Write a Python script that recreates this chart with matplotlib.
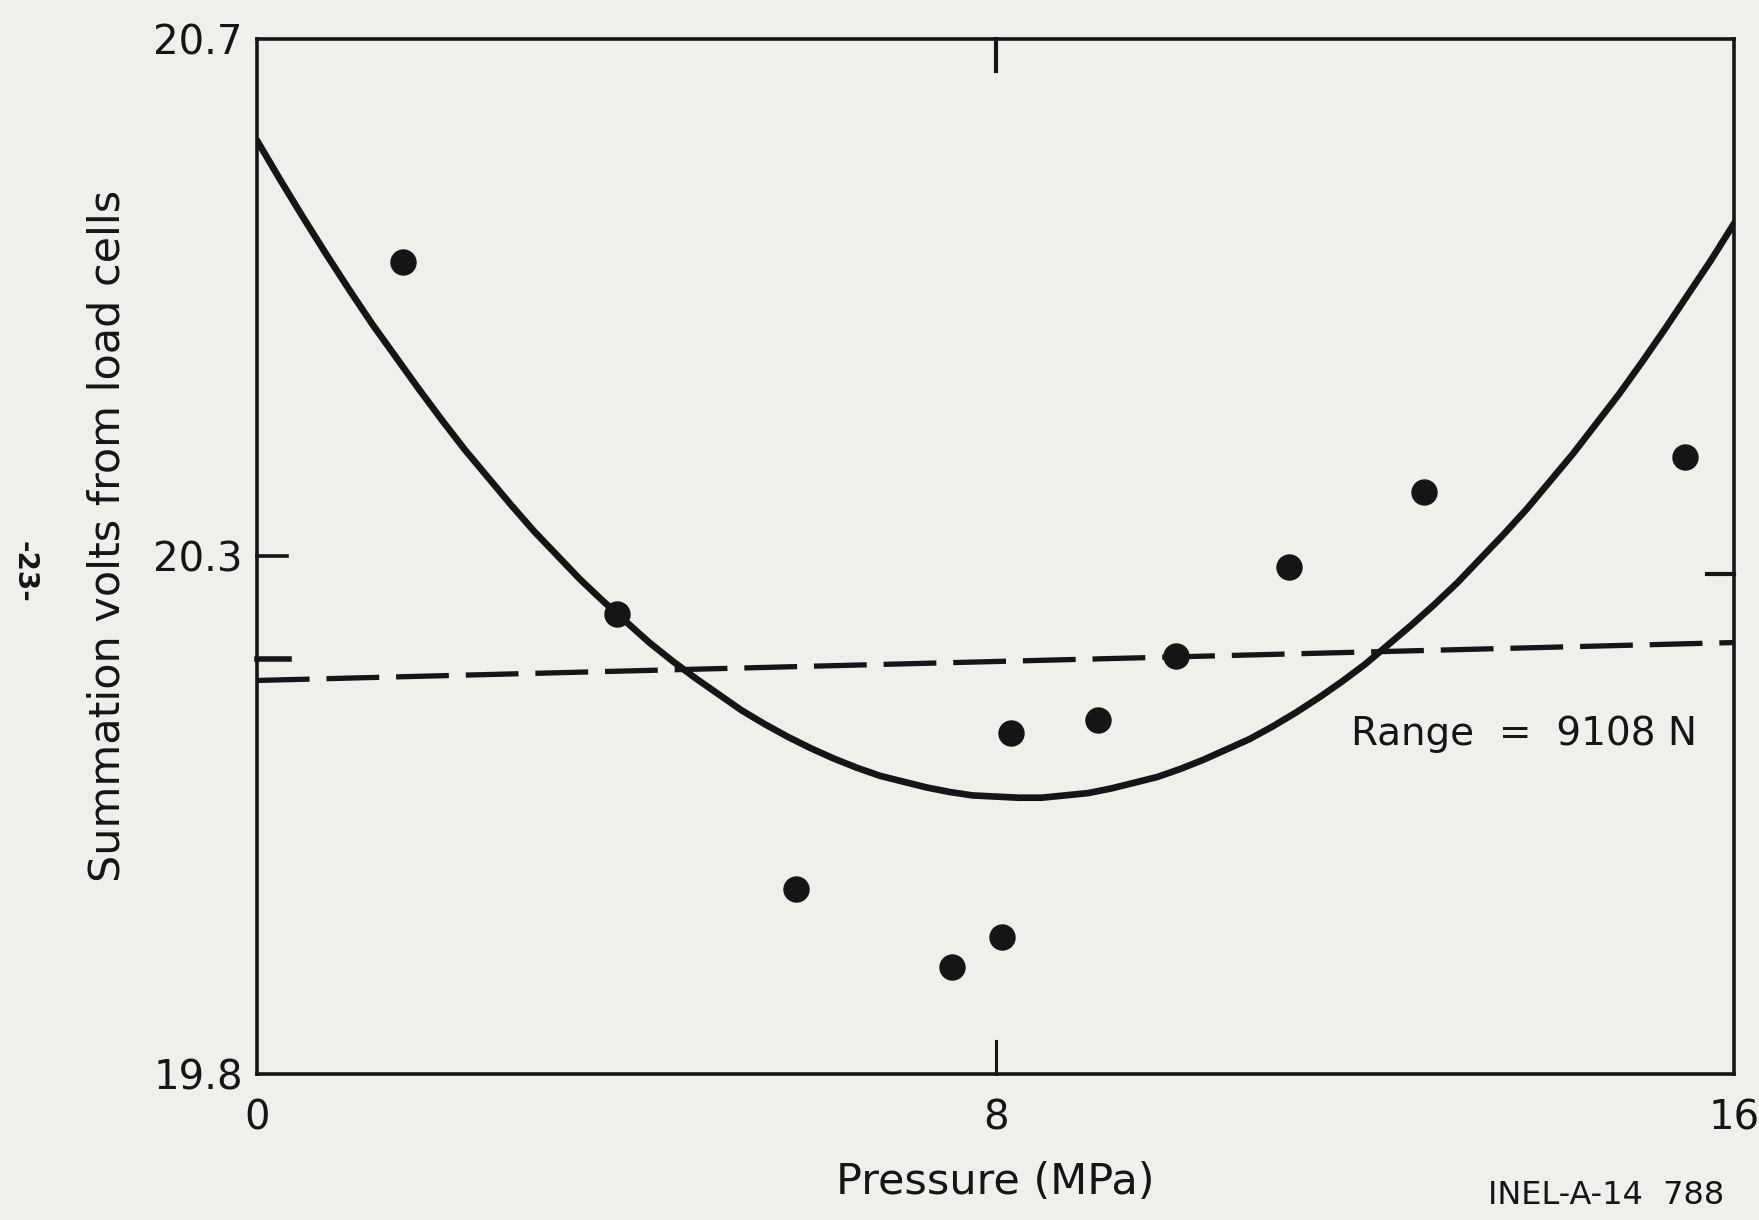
import matplotlib
matplotlib.use("Agg")
import matplotlib.pyplot as plt

plt.rcParams['font.family'] = ['DejaVu Sans']

# Measured data points (pressure MPa, summation volts)
pressure = [1.58, 3.90, 5.84, 7.53, 8.07, 8.17, 9.11, 9.95, 11.18, 12.64, 15.47]
volts = [20.506, 20.200, 19.961, 19.893, 19.919, 20.096, 20.108, 20.163, 20.241, 20.306, 20.336]

# Solid fitted curve
curve_x = [0, 0.25, 0.5, 0.75, 1, 1.25, 1.5, 1.75, 2, 2.25, 2.5, 2.75, 3, 3.25, 3.5, 3.75,
           4, 4.25, 4.5, 4.75, 5, 5.25, 5.5, 5.75, 6, 6.25, 6.5, 6.75, 7, 7.25, 7.5, 7.75,
           8, 8.25, 8.5, 8.75, 9, 9.25, 9.5, 9.75, 10, 10.25, 10.5, 10.75, 11, 11.25, 11.5, 11.75,
           12, 12.25, 12.5, 12.75, 13, 13.25, 13.5, 13.75, 14, 14.25, 14.5, 14.75, 15, 15.25,
           15.5, 15.75, 16]
curve_y = [20.612, 20.578, 20.545, 20.513, 20.482, 20.452, 20.424, 20.396, 20.369, 20.343,
           20.319, 20.295, 20.272, 20.251, 20.230, 20.211, 20.193, 20.175, 20.159, 20.144,
           20.130, 20.116, 20.104, 20.093, 20.083, 20.074, 20.066, 20.059, 20.054, 20.049,
           20.045, 20.042, 20.041, 20.040, 20.040, 20.042, 20.044, 20.048, 20.053, 20.058,
           20.065, 20.073, 20.082, 20.091, 20.102, 20.114, 20.127, 20.141, 20.156, 20.173,
           20.190, 20.208, 20.227, 20.248, 20.269, 20.291, 20.315, 20.339, 20.365, 20.391,
           20.419, 20.448, 20.478, 20.508, 20.540]

# Dashed line end points
dash_x = [0, 16]
dash_y = [20.142, 20.175]

x_ticks = [0, 8, 16]
x_tick_labels = ['0', '8', '16']
y_ticks = [19.8, 20.25, 20.7]
y_tick_labels = ['19.8', '20.3', '20.7']

bg = '#efefec'
ink = '#151515'

fig = plt.figure(figsize=(17.59, 12.20), dpi=100, facecolor=bg)
ax = fig.add_axes([0.146, 0.120, 0.840, 0.848], facecolor=bg)

ax.plot(curve_x, curve_y, color=ink, lw=4.8, solid_capstyle='round',
        solid_joinstyle='round', zorder=3)
ax.plot(dash_x, dash_y, color=ink, lw=3.8, dashes=(10, 3.2), zorder=2)
ax.plot(pressure, volts, 'o', color=ink, ms=18, zorder=4)

ax.set_xlim(0, 16)
ax.set_ylim(19.8, 20.7)

for s in ax.spines.values():
    s.set_linewidth(2.6)
    s.set_color(ink)

ax.set_xticks(x_ticks)
ax.set_xticklabels(x_tick_labels)
ax.set_yticks(y_ticks)
ax.set_yticklabels(y_tick_labels)
ax.tick_params(axis='both', direction='in', length=0, labelsize=29, colors=ink, pad=10)
ax.tick_params(axis='x', pad=18)

# inward tick marks as in the reference
ax.plot([8, 8], [19.8, 19.828], color=ink, lw=2.2, clip_on=False)
ax.plot([8, 8], [20.7, 20.672], color=ink, lw=3.0, clip_on=False)
ax.plot([0, 0.33], [20.25, 20.25], color=ink, lw=2.6, clip_on=False)
ax.plot([0, 0.35], [20.161, 20.161], color=ink, lw=4.0, clip_on=False)
ax.plot([16, 15.70], [20.235, 20.235], color=ink, lw=3.0, clip_on=False)

ax.set_xlabel('Pressure (MPa)', fontsize=31, color=ink, labelpad=16)
ax.set_ylabel('Summation volts from load cells', fontsize=31, color=ink, labelpad=16)
ax.yaxis.set_label_coords(-0.087, 0.52)

ax.text(15.59, 20.095, 'Range  =  9108 N', fontsize=28, color=ink, ha='right', va='center')

fig.text(0.913, 0.020, 'INEL-A-14  788', fontsize=23, color=ink, ha='center', va='center')
fig.text(0.014, 0.531, '-23-', fontsize=20, color=ink, rotation=-90, ha='center', va='center',
         fontweight='bold')

fig.savefig('out.png', dpi=100, facecolor=bg)
